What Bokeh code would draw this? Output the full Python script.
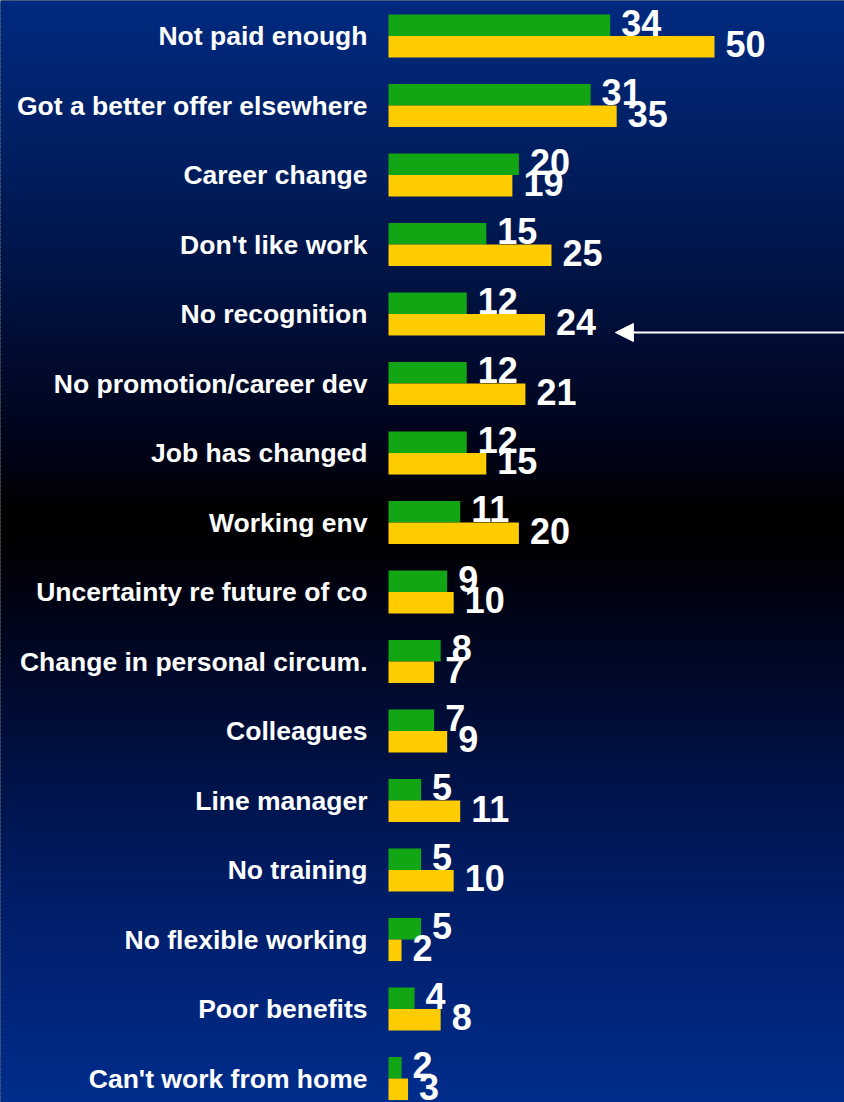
import numpy as np
from bokeh.plotting import figure
from bokeh.models import Range1d, ColumnDataSource, Arrow, NormalHead
from bokeh.transform import dodge
from bokeh.core.properties import value
from bokeh.embed import file_html
from bokeh.resources import INLINE

categories = [
    "Not paid enough", "Got a better offer elsewhere", "Career change",
    "Don't like work", "No recognition", "No promotion/career dev",
    "Job has changed", "Working env", "Uncertainty re future of co",
    "Change in personal circum.", "Colleagues", "Line manager",
    "No training", "No flexible working", "Poor benefits",
    "Can't work from home",
]
green_values = [34, 31, 20, 15, 12, 12, 12, 11, 9, 8, 7, 5, 5, 5, 4, 2]
yellow_values = [50, 35, 19, 25, 24, 21, 15, 20, 10, 7, 9, 11, 10, 2, 8, 3]
highlight_index = 4  # "No recognition"

W, H = 844, 1102
n = len(categories)
BAR = 0.31
LIFT = 0.19
FONT = value("Liberation Sans")

src = ColumnDataSource(dict(
    pos=[-i for i in range(n)],
    cat=categories,
    green=green_values,
    yellow=yellow_values,
    gtxt=[str(v) for v in green_values],
    ytxt=[str(v) for v in yellow_values],
))

x_range = Range1d(-59.51, 69.94)
y_range = Range1d(-(n - 1) - 0.345, 0.511)
p = figure(width=W, height=H, x_range=x_range, y_range=y_range,
           output_backend="svg", toolbar_location=None, tools="",
           x_axis_location=None, y_axis_location=None, min_border=0)
p.grid.visible = False
p.outline_line_color = None
p.background_fill_color = "#000000"
p.border_fill_color = "#000000"

# background gradient
p.extra_x_ranges = {"bgx": Range1d(0, 1)}
p.extra_y_ranges = {"bgy": Range1d(0, 1)}
stops_t = [0.0, 0.15, 0.30, 0.42, 0.46, 0.50, 0.62, 0.80, 1.0]
stops_c = [(0, 42, 128), (0, 30, 95), (0, 14, 55), (0, 3, 20), (0, 0, 2),
           (0, 0, 5), (0, 10, 45), (0, 28, 100), (0, 45, 140)]
N = 276
ts = (np.arange(N) + 0.5) / N
cols = []
for t in ts:
    rgb = [int(round(np.interp(t, stops_t, [c[k] for c in stops_c]))) for k in range(3)]
    cols.append("#%02x%02x%02x" % tuple(rgb))
tops = 1 - np.arange(N) / N
bottoms = 1 - (np.arange(N) + 1) / N - 0.0015
p.quad(left=0, right=1, top=tops, bottom=bottoms, fill_color=cols,
       line_color=cols, line_width=0.5,
       x_range_name="bgx", y_range_name="bgy")

GREEN = "#12a614"
YELLOW = "#ffcc00"
p.hbar(y=dodge("pos", BAR / 2, range=p.y_range), left=0, right="green",
       height=BAR, source=src, fill_color=GREEN, line_color=None)
p.hbar(y=dodge("pos", -BAR / 2, range=p.y_range), left=0, right="yellow",
       height=BAR, source=src, fill_color=YELLOW, line_color=None)

p.text(x="green", y=dodge("pos", LIFT, range=p.y_range), text="gtxt",
       source=src, x_offset=11, text_align="left", text_baseline="middle",
       text_color="white", text_font=FONT, text_font_style="bold",
       text_font_size="36px")
p.text(x="yellow", y=dodge("pos", -BAR + LIFT, range=p.y_range), text="ytxt",
       source=src, x_offset=11, text_align="left", text_baseline="middle",
       text_color="white", text_font=FONT, text_font_style="bold",
       text_font_size="36px")

p.text(x=0, y="pos", text="cat", source=src, x_offset=-21,
       text_align="right", text_baseline="middle", text_color="white",
       text_font=FONT, text_font_style="bold", text_font_size="26.5px")

ay = -highlight_index - 0.266
arrow = Arrow(end=NormalHead(size=18, fill_color="white", line_color="white",
                             line_width=1),
              x_start=x_range.end, y_start=ay,
              x_end=yellow_values[highlight_index] + 10.8, y_end=ay,
              line_color="white", line_width=2)
p.add_layout(arrow)

open("out.html", "w").write(file_html(p, INLINE))
